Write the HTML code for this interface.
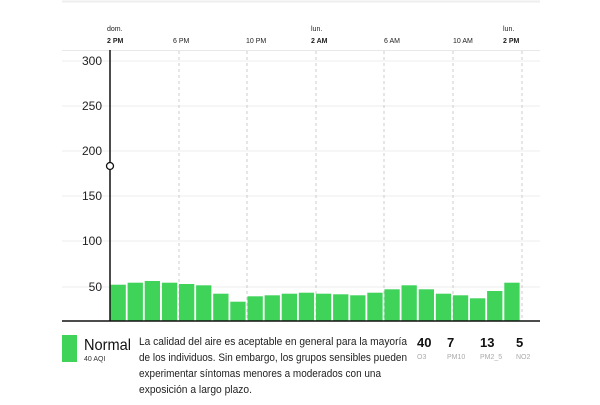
<!DOCTYPE html>
<html><head><meta charset="utf-8"><style>
body{margin:0;width:600px;height:400px;background:#fff;overflow:hidden;font-family:"Liberation Sans",sans-serif;}
</style></head><body>
<svg width="600" height="400" xmlns="http://www.w3.org/2000/svg" font-family="Liberation Sans, sans-serif">
<line x1="62" y1="1.5" x2="540" y2="1.5" stroke="#eee" stroke-width="2"/>
<g font-size="7" fill="#222">
<text x="107" y="31">dom.</text><text x="107" y="43" font-weight="bold">2 PM</text>
<text x="173" y="43">6 PM</text>
<text x="246" y="43">10 PM</text>
<text x="311" y="31">lun.</text><text x="311" y="43" font-weight="bold">2 AM</text>
<text x="384" y="43">6 AM</text>
<text x="453" y="43">10 AM</text>
<text x="503" y="31">lun.</text><text x="503" y="43" font-weight="bold">2 PM</text>
</g>
<line x1="62" y1="50.5" x2="540" y2="50.5" stroke="#e8e8e8"/>
<g stroke="#eee">
<line x1="62" y1="61" x2="540" y2="61"/><line x1="62" y1="106" x2="540" y2="106"/>
<line x1="62" y1="151" x2="540" y2="151"/><line x1="62" y1="196" x2="540" y2="196"/>
<line x1="62" y1="241" x2="540" y2="241"/><line x1="62" y1="287" x2="540" y2="287"/>
</g>
<g stroke="#ccc" stroke-dasharray="3,3">
<line x1="179" y1="51" x2="179" y2="321"/><line x1="247" y1="51" x2="247" y2="321"/>
<line x1="316" y1="51" x2="316" y2="321"/><line x1="384" y1="51" x2="384" y2="321"/>
<line x1="453" y1="51" x2="453" y2="321"/><line x1="522" y1="51" x2="522" y2="321"/>
</g>
<g font-size="12" fill="#222" text-anchor="end">
<text x="102" y="65">300</text><text x="102" y="110">250</text><text x="102" y="155">200</text>
<text x="102" y="200">150</text><text x="102" y="245">100</text><text x="102" y="291">50</text>
</g>
<g fill="#3fd35a" id="bars"></g>
<line x1="62" y1="321" x2="540" y2="321" stroke="#111" stroke-width="1.5"/>
<line x1="110" y1="50" x2="110" y2="321" stroke="#111" stroke-width="1.5"/>
<circle cx="110" cy="166" r="3.5" fill="#fff" stroke="#111" stroke-width="1.3"/>
<rect x="62" y="335" width="15" height="27" fill="#3fd35a"/>
<text x="84" y="350" font-size="16" fill="#111" textLength="47" lengthAdjust="spacingAndGlyphs">Normal</text>
<text x="84" y="361" font-size="7" fill="#333">40 AQI</text>
<g font-size="11" fill="#222" lengthAdjust="spacingAndGlyphs">
<text x="139" y="345" textLength="268" lengthAdjust="spacingAndGlyphs">La calidad del aire es aceptable en general para la mayoría</text>
<text x="139" y="361" textLength="268" lengthAdjust="spacingAndGlyphs">de los individuos. Sin embargo, los grupos sensibles pueden</text>
<text x="139" y="377" textLength="242" lengthAdjust="spacingAndGlyphs">experimentar síntomas menores a moderados con una</text>
<text x="139" y="393" textLength="113" lengthAdjust="spacingAndGlyphs">exposición a largo plazo.</text>
</g>
<g font-size="13" fill="#111" font-weight="bold">
<text x="417" y="347">40</text><text x="447" y="347">7</text><text x="480" y="347">13</text><text x="516" y="347">5</text>
</g>
<g font-size="7" fill="#aaa">
<text x="417" y="359">O3</text><text x="447" y="359">PM10</text><text x="480" y="359">PM2_5</text><text x="516" y="359">NO2</text>
</g>
</svg>
<script>
var t=[284.7,282.7,281,282.7,284,285.3,293.7,301.7,296.3,295.3,293.7,292.7,293.7,294.3,295.3,292.7,289.3,285.3,289.3,293.7,295.3,298.3,291,282.7];
var g=document.getElementById('bars'),s='';
for(var i=0;i<24;i++){var x=110+i*17.12;s+='<rect x="'+(x+0.5).toFixed(1)+'" y="'+t[i]+'" width="15.3" height="'+(321-t[i]).toFixed(1)+'"/>';}
g.innerHTML=s;
</script>
</body></html>
